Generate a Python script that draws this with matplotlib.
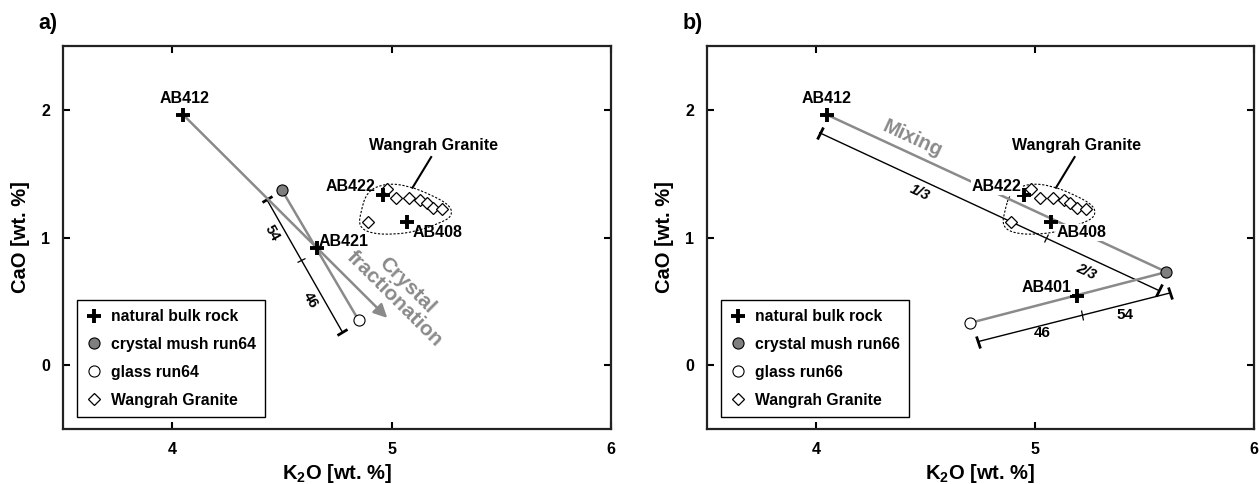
import numpy as np
import matplotlib.pyplot as plt
from matplotlib.markers import MarkerStyle
from matplotlib.transforms import Affine2D
from matplotlib.path import Path
from matplotlib.patches import PathPatch

plt.rcParams['font.family'] = ['Liberation Sans', 'DejaVu Sans']
plt.rcParams['font.weight'] = 'bold'
plt.rcParams['axes.labelweight'] = 'bold'
plt.rcParams['mathtext.fontset'] = 'custom'
plt.rcParams['mathtext.rm'] = 'Liberation Sans:bold'
plt.rcParams['mathtext.bf'] = 'Liberation Sans:bold'

# --- a) crystal fractionation, run64 ---
bulk_a_names = ['AB412', 'AB421', 'AB422', 'AB408']
bulk_a_k2o = [4.05, 4.66, 4.96, 5.07]
bulk_a_cao = [1.96, 0.92, 1.33, 1.12]
mush_a_k2o, mush_a_cao = [4.50], [1.37]
glass_a_k2o, glass_a_cao = [4.85], [0.35]
trend_a_end = (4.98, 0.37)          # arrow tip of the fractionation trend
lever_a = [(4.43, 1.30), (4.775, 0.26)]
lever_a_pct = [54, 46]

# --- b) mixing, run66 ---
bulk_b_names = ['AB412', 'AB422', 'AB408', 'AB401']
bulk_b_k2o = [4.05, 4.95, 5.07, 5.19]
bulk_b_cao = [1.96, 1.33, 1.12, 0.54]
mush_b_k2o, mush_b_cao = [5.60], [0.73]
glass_b_k2o, glass_b_cao = [4.70], [0.33]
mix_lever_b = [(4.015, 1.82), (5.565, 0.585)]
mix_frac_b = ['1/3', '2/3']
lever_b = [(4.74, 0.185), (5.615, 0.565)]
lever_b_pct = [46, 54]

# Wangrah Granite samples (same in both panels)
wangrah_k2o = [4.98, 5.02, 5.08, 5.13, 5.16, 5.19, 5.23, 4.89]
wangrah_cao = [1.38, 1.31, 1.31, 1.29, 1.27, 1.23, 1.22, 1.12]
wangrah_outline = [(4.887, 1.363), (4.972, 1.424), (5.071, 1.408), (5.177, 1.337),
                   (5.268, 1.251), (5.276, 1.167), (5.223, 1.115), (5.116, 1.049),
                   (5.01, 1.023), (4.903, 1.031), (4.85, 1.088), (4.858, 1.193)]

GREY = '#8a8a8a'
W, H = 1259, 484

fig = plt.figure(figsize=(W / 100, H / 100), dpi=100)
ax_a = fig.add_axes([62.7 / W, 55 / H, 548.3 / W, 383 / H])
ax_b = fig.add_axes([707 / W, 55 / H, 547 / W, 383 / H])


def style_axes(ax):
    ax.set_xlim(3.5, 6)
    ax.set_ylim(-0.5, 2.5)
    ax.set_xticks([4, 5, 6])
    ax.set_yticks([0, 1, 2])
    ax.tick_params(direction='in', length=5, width=1.5, top=True, right=True,
                   labelsize=11.5, pad=9)
    for s in ax.spines.values():
        s.set_linewidth(1.6)
        s.set_color('#222222')
    ax.set_xlabel(r'K$_\mathbf{2}$O [wt. %]', fontsize=14.5, labelpad=4)
    ax.set_ylabel('CaO [wt. %]', fontsize=14.5, labelpad=8)


def screen_angle(ax, p0, p1):
    (x0, y0), (x1, y1) = ax.transData.transform([p0, p1])
    return np.degrees(np.arctan2(y1 - y0, x1 - x0))


def lever(ax, p0, p1, split):
    ang = screen_angle(ax, p0, p1)
    cap = MarkerStyle('|', transform=Affine2D().rotate_deg(ang))
    ax.plot([p0[0], p1[0]], [p0[1], p1[1]], color='black', lw=1.0, zorder=2)
    ax.plot([p0[0], p1[0]], [p0[1], p1[1]], ls='none', marker=cap, ms=9,
            mew=2, color='black', zorder=2)
    mid = (p0[0] + split * (p1[0] - p0[0]), p0[1] + split * (p1[1] - p0[1]))
    ax.plot([mid[0]], [mid[1]], ls='none', marker=cap, ms=7, mew=0.9,
            color='black', zorder=2)
    return ang, mid


def outline(ax, pts):
    pts = np.asarray(pts)
    n = len(pts)
    mids = (pts + np.roll(pts, -1, axis=0)) / 2
    verts = [mids[-1]]
    codes = [Path.MOVETO]
    for i in range(n):
        verts += [pts[i], mids[i]]
        codes += [Path.CURVE3, Path.CURVE3]
    ax.add_patch(PathPatch(Path(verts, codes), fill=False, lw=0.8,
                           ls=(0, (2, 1.5)), color='black', zorder=2))


def common(ax, bulk_k, bulk_c, mk, mc, gk, gc, run):
    h1, = ax.plot(bulk_k, bulk_c, ls='none', marker='+', ms=10, mew=2.8,
                  color='black', zorder=5, label='natural bulk rock')
    h2, = ax.plot(mk, mc, ls='none', marker='o', ms=8, mfc='#7f7f7f',
                  mec='black', mew=0.8, zorder=5, label='crystal mush ' + run)
    h3, = ax.plot(gk, gc, ls='none', marker='o', ms=8, mfc='white',
                  mec='black', mew=0.8, zorder=5, label='glass ' + run)
    h4, = ax.plot(wangrah_k2o, wangrah_cao, ls='none', marker='D', ms=6.5,
                  mfc='white', mec='black', mew=0.9, zorder=4,
                  label='Wangrah Granite')
    outline(ax, wangrah_outline)
    ax.plot([5.18, 5.095], [1.63, 1.39], color='black', lw=1.5, zorder=2)
    ax.text(5.19, 1.717, 'Wangrah Granite', fontsize=11.5, ha='center',
            va='center')
    leg = ax.legend(handles=[h1, h2, h3, h4], loc='lower left',
                    bbox_to_anchor=(0.026, 0.031), borderaxespad=0,
                    fancybox=False, edgecolor='black', framealpha=1,
                    fontsize=11.3, handlelength=1.0, handletextpad=0.55,
                    labelspacing=0.82, borderpad=0.6)
    leg.get_frame().set_linewidth(1.0)


style_axes(ax_a)
style_axes(ax_b)

# ---------------- panel a ----------------
start = (bulk_a_k2o[0], bulk_a_cao[0])
ax_a.annotate('', xy=trend_a_end, xytext=start,
              arrowprops=dict(arrowstyle='-|>', color=GREY, lw=1.8,
                              mutation_scale=20, shrinkA=0, shrinkB=0),
              zorder=3)
ax_a.plot([mush_a_k2o[0], glass_a_k2o[0]], [mush_a_cao[0], glass_a_cao[0]],
          color=GREY, lw=1.8, zorder=3)
ang, mid = lever(ax_a, lever_a[0], lever_a[1], lever_a_pct[1] / 100)
ax_a.text(4.454, 1.036, str(lever_a_pct[0]), rotation=ang, rotation_mode='anchor',
          ha='center', va='center', fontsize=10.5)
ax_a.text(4.629, 0.512, str(lever_a_pct[1]), rotation=ang, rotation_mode='anchor',
          ha='center', va='center', fontsize=10.5)
trend_ang = screen_angle(ax_a, start, trend_a_end)
ax_a.text(5.041, 0.57, 'Crystal\nfractionation', color=GREY, fontsize=15,
          rotation=trend_ang, rotation_mode='anchor', ha='center', va='center',
          linespacing=1.0)
common(ax_a, bulk_a_k2o, bulk_a_cao, mush_a_k2o, mush_a_cao,
       glass_a_k2o, glass_a_cao, 'run64')
label_pos_a = [(4.058, 2.09), (4.781, 0.97), (4.812, 1.40), (5.208, 1.04)]
for name, (x, y) in zip(bulk_a_names, label_pos_a):
    ax_a.text(x, y, name, fontsize=11.5, ha='center', va='center', zorder=6)

# ---------------- panel b ----------------
ax_b.plot([bulk_b_k2o[0], mush_b_k2o[0]], [bulk_b_cao[0], mush_b_cao[0]],
          color=GREY, lw=1.8, zorder=3)
ax_b.plot([glass_b_k2o[0], mush_b_k2o[0]], [glass_b_cao[0], mush_b_cao[0]],
          color=GREY, lw=1.8, zorder=3)
ang_m, _ = lever(ax_b, mix_lever_b[0], mix_lever_b[1], 2 / 3)
ax_b.text(4.473, 1.35, mix_frac_b[0], rotation=ang_m, rotation_mode='anchor',
          ha='center', va='center', fontsize=10.5, style='italic')
ax_b.text(5.234, 0.734, mix_frac_b[1], rotation=ang_m, rotation_mode='anchor',
          ha='center', va='center', fontsize=10.5, style='italic')
lever(ax_b, lever_b[0], lever_b[1], lever_b_pct[1] / 100)
ax_b.text(5.034, 0.25, str(lever_b_pct[0]), ha='center', va='center', fontsize=11)
ax_b.text(5.409, 0.394, str(lever_b_pct[1]), ha='center', va='center', fontsize=11)
mix_ang = screen_angle(ax_b, (bulk_b_k2o[0], bulk_b_cao[0]),
                       (mush_b_k2o[0], mush_b_cao[0]))
ax_b.text(4.44, 1.77, 'Mixing', color=GREY, fontsize=14.5, rotation=mix_ang,
          rotation_mode='anchor', ha='center', va='center')
common(ax_b, bulk_b_k2o, bulk_b_cao, mush_b_k2o, mush_b_cao,
       glass_b_k2o, glass_b_cao, 'run66')
label_pos_b = [(4.047, 2.09), (4.823, 1.40), (5.211, 1.04), (5.051, 0.612)]
for name, (x, y) in zip(bulk_b_names, label_pos_b):
    ax_b.text(x, y, name, fontsize=11.5, ha='center', va='center', zorder=6,
              bbox=dict(facecolor='white', edgecolor='none', pad=0.5))

fig.text(48 / W, 1 - 23 / H, 'a)', fontsize=15.5, ha='center', va='center')
fig.text(693 / W, 1 - 23 / H, 'b)', fontsize=15.5, ha='center', va='center')

fig.savefig('out.png', dpi=100, facecolor='white')
